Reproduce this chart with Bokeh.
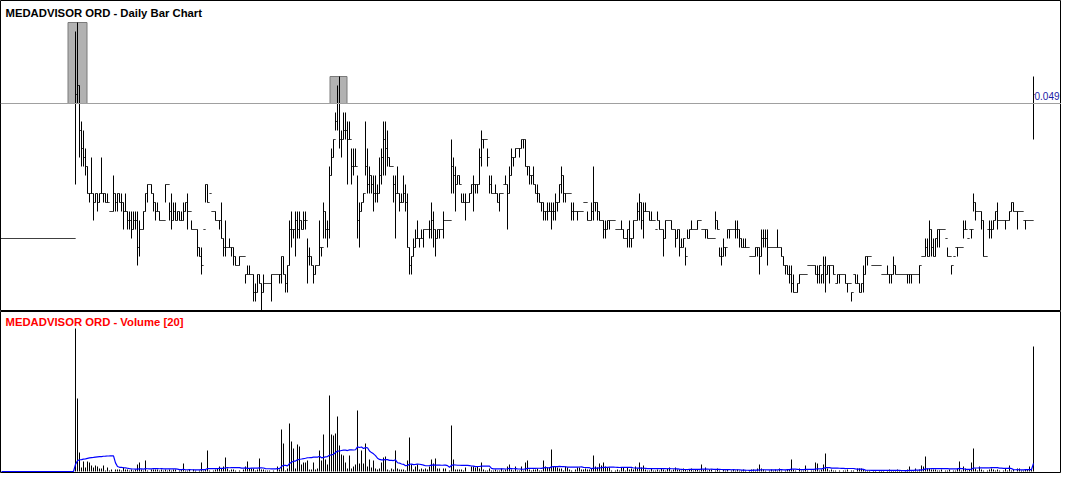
import pandas as pd
from bokeh.plotting import figure
from bokeh.layouts import column
from bokeh.models import ColumnDataSource, Range1d, Label, Span
from bokeh.embed import file_html
from bokeh.resources import INLINE

# ---------------- data (prices in tenths of a cent, i.e. 0.001 AUD) ----------------
PRE_LISTING_BARS = 37
PRE_LISTING_PRICE = 0.034
RESISTANCE = 0.049

high_milli = [
    57,58,51,47,46,44,42,39,43,39, 39,39,39,43,39,39,39,37,37,41,
    39,39,39,39,38,39,37,37,37,37, 37,37,36,35,37,39,40,40,40,39,
    38,38,37,36,36,40,40,38,39,38, 38,37,37,37,38,38,39,37,36,35,
    35,35,33,33,35,40,40,39,37,37, 37,36,36,38,34,36,33,34,33,33,
    32,31,32,32,32,30,31,31,30,30, 29,30,30,29,30,29,29,29,30,30,
    30,30,30,32,32,30,31,36,37,35, 37,37,37,36,37,37,34,33,32,31,
    31,31,36,33,38,37,36,42,44,45, 48,51,52,46,48,48,47,47,44,44,
    44,41,38,38,39,47,44,42,41,41, 41,40,43,44,47,47,46,43,42,41,
    41,42,39,39,41,40,39,33,32,34, 35,36,34,35,35,35,35,36,38,37,
    35,35,35,35,37,36,36,36,45,43, 42,41,41,39,39,39,38,39,40,41,
    40,40,44,46,45,45,44,41,41,39, 40,39,39,39,40,41,40,42,44,43,
    44,44,44,45,45,45,42,42,41,42, 40,40,39,38,38,37,38,38,38,38,
    39,38,40,42,41,39,39,39,38,38, 37,37,37,37,38,38,37,36,38,42,
    38,38,37,36,36,36,36,36,36,36, 35,35,35,36,35,34,35,36,34,36,
    36,38,39,38,38,38,37,37,37,36, 35,37,36,35,35,36,36,36,36,35,
    35,35,35,34,34,33,35,35,36,35, 35,36,36,35,35,35,35,34,34,34,
    37,36,33,33,34,33,35,35,35,35, 36,36,35,34,34,34,33,32,32,32,
    33,33,33,35,35,35,35,33,33,33, 33,35,33,33,32,31,31,31,31,30,
    28,29,30,30,30,30,31,31,31,31, 31,31,31,30,32,32,31,31,31,31,
    29,30,30,30,30,30,29,29,28,30, 30,30,29,29,31,32,32,32,31,31,
    31,31,31,30,30,30,31,30,30,32, 31,30,30,30,30,30,30,30,30,30,
    30,30,31,32,32,34,34,36,35,34, 34,35,35,35,35,34,33,32,31,32,
    33,33,33,33,36,36,34,35,35,39, 38,37,37,37,36,32,35,36,36,36,
    37,38,36,36,36,36,36,37,38,38, 37,37,37,37,36,36,36,36,36,52,
]

low_milli = [
    40,49,43,42,42,41,39,38,39,36, 38,37,38,39,38,38,38,37,37,37,
    37,37,38,37,35,37,35,35,34,35, 35,31,32,35,35,37,38,40,39,37,
    36,37,36,36,36,38,40,36,35,36, 36,36,36,36,36,37,35,37,35,35,
    35,32,32,30,35,38,38,39,37,37, 36,36,35,34,32,32,33,33,32,31,
    31,31,31,32,32,29,30,30,30,27, 27,28,29,26,28,29,29,29,27,30,
    30,30,29,29,30,28,28,31,33,34, 32,34,34,35,35,35,29,31,31,29,
    30,31,31,32,34,34,33,34,41,43, 46,46,44,43,45,45,40,45,40,41,
    42,34,33,37,38,41,39,39,39,37, 38,38,39,40,41,41,42,42,42,38,
    34,39,37,38,38,37,33,30,30,32, 33,34,33,34,33,35,35,34,34,33,
    32,34,34,35,34,36,36,36,39,39, 37,40,40,38,38,36,38,38,39,37,
    39,39,40,42,44,45,42,39,39,39, 39,38,37,39,40,40,35,39,41,42,
    43,44,43,44,44,42,41,40,40,40, 39,38,38,37,36,36,36,37,35,36,
    36,37,38,39,38,38,39,39,36,36, 37,36,37,37,38,38,36,36,36,36,
    37,36,36,36,34,34,35,35,36,36, 35,35,35,35,34,34,33,33,33,34,
    36,36,36,35,34,37,37,36,36,36, 35,36,35,35,32,34,36,36,35,35,
    33,34,32,33,33,31,34,34,35,35, 35,35,36,35,35,34,34,34,34,34,
    35,35,32,31,32,32,34,34,35,35, 34,34,33,33,33,33,33,32,32,32,
    32,32,30,32,33,33,31,33,33,33, 33,33,33,32,31,30,30,29,28,28,
    28,28,29,30,30,30,31,31,31,31, 30,29,29,29,29,28,30,29,31,30,
    29,29,29,30,30,29,28,29,27,30, 29,29,28,28,28,30,31,32,31,31,
    31,31,31,30,30,30,30,29,29,30, 30,30,30,30,30,30,29,29,29,30,
    30,30,29,32,32,32,32,32,32,32, 32,33,33,35,35,34,32,32,30,32,
    33,32,33,33,34,35,34,35,34,37, 36,37,37,35,32,32,35,34,34,35,
    36,35,36,36,36,35,36,36,37,37, 37,35,37,37,36,35,36,36,36,45,
]

close_milli = [
    50,51,46,44,43,42,39,39,39,38, 39,38,39,39,39,38,38,37,37,39,
    38,39,38,38,37,37,36,36,35,36, 36,33,35,35,37,39,40,40,39,38,
    37,37,36,36,36,40,40,37,36,37, 36,37,36,36,37,38,37,37,35,35,
    35,33,32,31,35,40,38,39,37,37, 36,36,36,34,33,33,33,33,33,32,
    31,31,32,32,32,30,30,30,30,28, 28,30,29,28,29,29,29,29,30,30,
    30,30,30,32,30,29,31,35,35,35, 36,35,36,35,36,36,32,32,31,30,
    31,31,33,33,37,35,35,41,43,45, 47,49,45,45,46,46,45,45,42,42,
    42,36,37,38,39,42,40,41,40,39, 39,39,41,43,45,44,43,42,42,40,
    39,39,38,38,39,38,33,31,32,33, 34,34,34,34,35,35,35,35,36,35,
    34,35,35,35,36,36,36,36,42,41, 40,41,40,38,38,38,38,39,40,40,
    40,40,43,45,45,45,43,40,39,39, 39,38,39,39,40,40,39,41,43,43,
    44,44,44,45,45,42,42,41,41,40, 39,39,38,38,37,37,37,37,37,37,
    38,38,40,41,39,39,39,39,37,37, 37,37,37,37,38,38,36,36,37,38,
    38,37,36,36,35,35,36,36,36,36, 35,35,35,35,34,34,35,34,34,36,
    36,37,38,36,37,37,37,36,36,36, 35,36,35,35,34,36,36,36,35,35,
    34,35,33,33,34,32,34,35,35,35, 35,36,36,35,35,35,34,34,34,34,
    36,35,32,32,33,33,35,35,35,35, 35,35,34,33,33,33,33,32,32,32,
    33,33,32,34,34,34,33,33,33,33, 33,33,33,32,31,31,30,30,29,28,
    28,29,30,30,30,30,31,31,31,31, 30,30,31,30,31,30,31,31,31,30,
    29,30,30,30,30,29,29,29,28,30, 29,29,28,29,30,32,32,32,31,31,
    31,31,31,30,30,30,30,30,30,31, 30,30,30,30,30,30,30,30,30,30,
    30,30,31,32,32,33,32,35,33,32, 34,35,35,35,35,34,32,32,31,32,
    33,33,33,33,35,35,34,35,35,38, 37,37,37,36,32,32,35,35,35,36,
    37,36,36,36,36,36,36,37,38,37, 37,37,37,37,36,36,36,36,36,50,
]

# volume in hundreds of thousands of shares
volume_100k = [
    143,73,19,4,10,4,10,9,6,4, 6,5,3,3,6,1,4,1,2,0,
    2,2,2,1,4,2,2,1,2,1, 2,7,9,2,1,11,1,0,2,2,
    2,2,1,2,1,2,1,2,1,2, 2,0,1,2,8,1,1,2,0,2,
    1,0,1,9,1,2,21,1,0,1, 2,3,5,3,5,14,3,1,2,2,
    1,0,1,0,2,5,10,3,3,3, 1,2,13,2,2,1,1,1,0,1,
    0,5,2,42,28,1,3,48,30,23, 3,27,25,7,9,9,11,2,2,9,
    2,3,21,11,37,12,7,76,37,36, 38,55,26,17,16,9,3,16,3,5,
    7,61,8,21,8,28,5,12,4,11, 3,2,3,9,14,15,2,1,3,2,
    21,3,2,2,2,1,11,34,7,2, 5,7,2,3,2,3,2,5,12,8,
    13,3,3,0,3,3,0,1,46,12, 2,2,2,2,1,4,0,0,5,5,
    4,5,3,9,2,1,1,3,1,1, 2,1,1,3,1,2,5,7,2,1,
    5,1,1,5,1,9,11,2,1,2, 2,3,1,1,11,5,4,4,22,5,
    5,4,3,3,1,5,4,2,1,0, 2,4,4,2,2,3,2,2,3,16,
    5,4,8,6,9,5,4,4,1,0, 1,2,1,4,4,1,4,2,3,2,
    5,3,9,4,6,2,1,1,3,1, 1,2,1,3,2,1,3,4,1,2,
    4,2,2,1,3,2,1,2,3,1, 2,2,1,7,2,4,1,2,2,0,
    1,3,1,0,2,1,2,0,1,2, 1,2,1,1,2,1,0,1,2,2,
    1,3,7,3,2,1,0,1,2,1, 2,1,3,1,0,1,2,2,12,2,
    1,0,3,1,1,6,1,0,1,1, 9,8,1,2,7,18,3,1,2,1,
    1,0,1,0,1,1,2,0,1,1, 0,3,3,3,2,1,1,1,0,1,
    1,0,1,1,1,0,1,2,1,1, 1,2,1,1,0,1,2,5,1,1,
    3,1,2,6,5,15,3,3,2,2, 2,1,1,2,0,1,1,2,0,1,
    1,3,10,1,5,3,1,2,9,23, 3,1,5,2,1,0,1,2,3,2,
    1,2,1,0,1,3,1,6,1,2, 0,3,3,1,1,2,2,5,2,125,
]

highlight_runs = [(37, 39), (168, 169)]   # bar indices of the two highlighted peaks
MA_PERIOD = 20

TITLE_PRICE = "MEDADVISOR ORD - Daily Bar Chart"
TITLE_VOL = "MEDADVISOR ORD - Volume [20]"

# ---------------- build table ----------------
pre = PRE_LISTING_BARS
df = pd.DataFrame({
    "high": [PRE_LISTING_PRICE] * pre + [v / 1000 for v in high_milli],
    "low": [PRE_LISTING_PRICE] * pre + [v / 1000 for v in low_milli],
    "close": [PRE_LISTING_PRICE] * pre + [v / 1000 for v in close_milli],
    "volume": [0] * pre + list(volume_100k),
})
df["x"] = range(len(df))
df["open"] = df["close"].shift(1).fillna(PRE_LISTING_PRICE)
df["ma"] = df["volume"].rolling(MA_PERIOD, min_periods=1).mean()
df["xl"] = df["x"] - 0.5
df["xr"] = df["x"] + 0.5
df["zero"] = 0.0
src = ColumnDataSource(df)

W = 1061
H1, H2 = 311, 162
PX_PER_TICK = 9.0            # pixels per 0.001 of price
xr = Range1d(-0.5, -0.5 + W / 2.0)   # 2 px per bar
y_top = RESISTANCE + 103.0 / (PX_PER_TICK * 1000)
yr = Range1d(y_top - H1 / (PX_PER_TICK * 1000), y_top)

# ---------------- price panel ----------------
p1 = figure(width=W, height=H1, x_range=xr, y_range=yr,
            output_backend="svg", toolbar_location=None, min_border=0)
p1.axis.visible = False
p1.grid.visible = False
p1.outline_line_color = "black"
p1.outline_line_width = 1

hl = []
for s, e in highlight_runs:
    hl.append((s - 3.75, e + 3.75, df["high"].iloc[s:e + 1].max()))
p1.quad(left=[h[0] for h in hl], right=[h[1] for h in hl],
        bottom=[RESISTANCE] * len(hl), top=[h[2] for h in hl],
        fill_color="#B2B2B2", line_color="#7A7A7A", line_width=1)

p1.add_layout(Span(location=RESISTANCE, dimension="width",
                   line_color="#A0A0A0", line_width=1))

p1.segment(x0="x", y0="low", x1="x", y1="high", source=src, line_color="black", line_width=1)
p1.segment(x0="xl", y0="open", x1="x", y1="open", source=src, line_color="black", line_width=1)
p1.segment(x0="x", y0="close", x1="xr", y1="close", source=src, line_color="black", line_width=1)

p1.add_layout(Label(x=5, y=H1 - 12, x_units="screen", y_units="screen", text=TITLE_PRICE,
                    text_font="Liberation Sans", text_font_style="bold", text_font_size="11.3px",
                    text_color="black", text_baseline="middle"))
p1.add_layout(Label(x=W - 2, y=RESISTANCE, x_units="screen", y_units="data", y_offset=8,
                    text=f"{RESISTANCE:.3f}", text_font="Liberation Sans", text_font_size="10px",
                    text_color="#1A1AA6", text_baseline="middle", text_align="right"))

# ---------------- volume panel ----------------
p2 = figure(width=W, height=H2, x_range=xr, y_range=Range1d(-2, H2 - 2),
            output_backend="svg", toolbar_location=None, min_border=0)
p2.axis.visible = False
p2.grid.visible = False
p2.outline_line_color = "black"
p2.outline_line_width = 1

p2.segment(x0="x", y0="zero", x1="x", y1="volume", source=src, line_color="black", line_width=1)
p2.line(x="x", y="ma", source=src, line_color="#0000FF", line_width=1.2)

p2.add_layout(Label(x=5, y=H2 - 10, x_units="screen", y_units="screen", text=TITLE_VOL,
                    text_font="Liberation Sans", text_font_style="bold", text_font_size="11.3px",
                    text_color="#FF0000", text_baseline="middle"))

layout = column(p1, p2, spacing=0)
open("out.html", "w").write(file_html(layout, INLINE))
